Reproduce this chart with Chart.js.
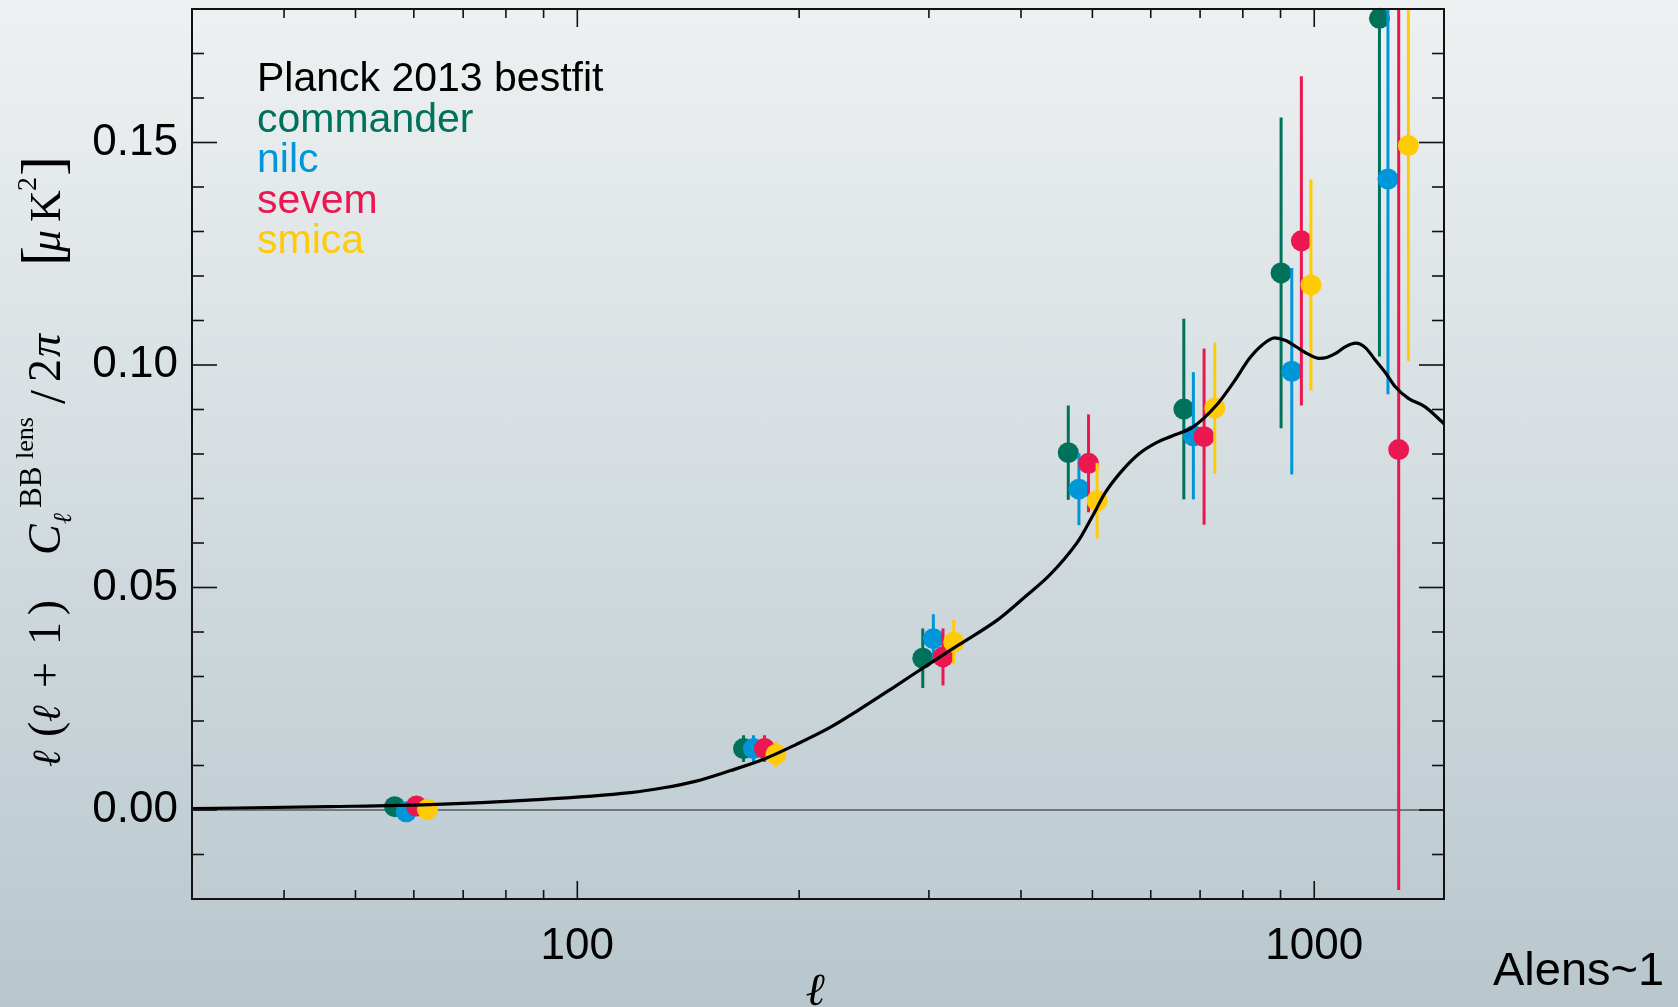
<!DOCTYPE html>
<html>
<head>
<meta charset="utf-8">
<title>Lensing B-mode power spectrum</title>
<script src="https://cdn.jsdelivr.net/npm/chart.js@4.4.1/dist/chart.umd.min.js"></script>
<style>
  html, body { margin: 0; padding: 0; }
  body {
    width: 1678px; height: 1007px; overflow: hidden;
    background: linear-gradient(to bottom, #eef1f2 0%, #b8c7cd 100%);
  }
  canvas { display: block; }
</style>
</head>
<body>
<canvas id="cl" width="1678" height="1007"></canvas>
<script>
// Best-fit lensing BB spectrum, l(l+1)C_l/2pi in uK^2
const theoryL = [30, 46, 63, 86, 118, 131, 145, 161, 179, 198,
                 220, 241, 270, 300, 330, 373, 407, 435, 458, 480,
                 500, 520, 545, 579, 610, 640, 685, 737, 780, 817,
                 850, 884, 915, 945, 980, 1015, 1040, 1069, 1100, 1138,
                 1175, 1210, 1250, 1288, 1342, 1414, 1489, 1500];
const theoryD = [0.0003, 0.00075, 0.0012, 0.0022, 0.0039, 0.005, 0.0065, 0.0088, 0.0114, 0.0147,
                 0.0185, 0.0225, 0.0278, 0.0328, 0.0372, 0.0429, 0.0482, 0.0524, 0.0564, 0.0608,
                 0.0660, 0.0712, 0.0757, 0.0801, 0.0825, 0.0840, 0.0861, 0.0910, 0.0965, 0.1015,
                 0.1045, 0.1061, 0.1055, 0.1041, 0.1025, 0.1015, 0.1017, 0.1026, 0.1040, 0.1049,
                 0.1038, 0.1011, 0.0982, 0.0951, 0.0925, 0.0906, 0.0873, 0.0868];

// Band powers per component-separation method (bin centre, value, 1-sigma error)
const commanderL   = [56.5, 168.1, 294.3, 463.7, 665.3, 901.6, 1226];
const commanderD   = [0.00075, 0.0138, 0.0341, 0.0803, 0.0901, 0.1207, 0.1779];
const commanderErr = [0.002, 0.003, 0.0067, 0.0106, 0.0203, 0.0349, 0.076];

const nilcL   = [58.6, 173.4, 304.2, 479.4, 685.5, 932.2, 1259];
const nilcD   = [-0.0004, 0.0138, 0.0385, 0.0721, 0.0841, 0.0986, 0.1418];
const nilcErr = [0.002, 0.003, 0.0055, 0.0081, 0.0143, 0.0232, 0.0484];

const sevemL   = [60.5, 179.5, 313.5, 494.0, 708.8, 960.6, 1302];
const sevemD   = [0.0009, 0.0138, 0.0344, 0.0779, 0.0839, 0.1279, 0.0810];
const sevemErr = [0.002, 0.003, 0.0064, 0.011, 0.0198, 0.037, 0.099];

const smicaL   = [62.6, 186.0, 324.2, 507.4, 732.9, 989.9, 1342];
const smicaD   = [0.00015, 0.0125, 0.0377, 0.0695, 0.0903, 0.1180, 0.1493];
const smicaErr = [0.002, 0.003, 0.005, 0.0085, 0.0147, 0.0237, 0.0484];

// Axis ticks
const xMajorTicks = [100, 1000];
const xTickLabels = ['100', '1000'];
const xMinorTicks = [40, 50, 60, 70, 80, 90, 200, 300, 400, 500, 600, 700, 800, 900];
const yMajorTicks = [0, 0.05, 0.10, 0.15];
const yTickLabels = ['0.00', '0.05', '0.10', '0.15'];
const yMinorTicks = [-0.01, 0.01, 0.02, 0.03, 0.04, 0.06, 0.07, 0.08, 0.09,
                     0.11, 0.12, 0.13, 0.14, 0.16, 0.17];

const seriesNames  = ['commander', 'nilc', 'sevem', 'smica'];
const seriesColors = ['#00725c', '#0096da', '#ec1751', '#ffcb05'];
const seriesL   = [commanderL, nilcL, sevemL, smicaL];
const seriesD   = [commanderD, nilcD, sevemD, smicaD];
const seriesErr = [commanderErr, nilcErr, sevemErr, smicaErr];

const toPoints = (xs, ys) => xs.map((x, i) => ({ x: x, y: ys[i] }));

const datasets = [{
  label: 'Planck 2013 bestfit',
  type: 'line',
  data: toPoints(theoryL, theoryD),
  borderColor: '#000000',
  borderWidth: 3.2,
  pointRadius: 0,
  cubicInterpolationMode: 'monotone',
  fill: false,
  order: 0
}];
seriesNames.forEach((name, k) => {
  datasets.push({
    label: name,
    type: 'scatter',
    data: toPoints(seriesL[k], seriesD[k]),
    errors: seriesErr[k],
    backgroundColor: seriesColors[k],
    borderColor: seriesColors[k],
    pointRadius: 10.5,
    pointBorderWidth: 0,
    clip: false,
    order: 4 - k
  });
});

// Thin reference line at zero
const zeroLine = {
  id: 'zeroLine',
  beforeDatasetsDraw(chart) {
    const { ctx, chartArea: a, scales: { y } } = chart;
    const py = y.getPixelForValue(0);
    ctx.save();
    ctx.strokeStyle = '#555b5e';
    ctx.lineWidth = 1.5;
    ctx.beginPath();
    ctx.moveTo(a.left, py);
    ctx.lineTo(a.right, py);
    ctx.stroke();
    ctx.restore();
  }
};

// Vertical error bars, drawn just beneath each dataset's markers
const errorBars = {
  id: 'errorBars',
  beforeDatasetDraw(chart, args) {
    const ds = chart.data.datasets[args.index];
    if (!ds.errors) return;
    const { ctx, chartArea: a, scales: { x, y } } = chart;
    ctx.save();
    ctx.beginPath();
    ctx.rect(a.left, a.top, a.right - a.left, a.bottom - a.top);
    ctx.clip();
    ctx.strokeStyle = ds.borderColor;
    ctx.lineWidth = 3;
    ds.data.forEach((p, i) => {
      const px = x.getPixelForValue(p.x);
      ctx.beginPath();
      ctx.moveTo(px, y.getPixelForValue(p.y - ds.errors[i]));
      ctx.lineTo(px, y.getPixelForValue(p.y + ds.errors[i]));
      ctx.stroke();
    });
    ctx.restore();
  }
};

// Box frame with inward ticks on all four sides
const frame = {
  id: 'frame',
  afterDatasetsDraw(chart) {
    const { ctx, chartArea: a, scales: { x, y } } = chart;
    const seg = (x1, y1, x2, y2) => { ctx.beginPath(); ctx.moveTo(x1, y1); ctx.lineTo(x2, y2); ctx.stroke(); };
    ctx.save();
    ctx.strokeStyle = '#111111';
    ctx.lineWidth = 1.6;
    xMajorTicks.forEach(v => { const p = x.getPixelForValue(v); seg(p, a.bottom, p, a.bottom - 18); seg(p, a.top, p, a.top + 18); });
    xMinorTicks.forEach(v => { const p = x.getPixelForValue(v); seg(p, a.bottom, p, a.bottom - 9); seg(p, a.top, p, a.top + 9); });
    yMajorTicks.forEach(v => { const p = y.getPixelForValue(v); seg(a.left, p, a.left + 25, p); seg(a.right, p, a.right - 25, p); });
    yMinorTicks.forEach(v => { const p = y.getPixelForValue(v); seg(a.left, p, a.left + 12, p); seg(a.right, p, a.right - 12, p); });
    ctx.lineWidth = 2;
    ctx.strokeRect(a.left, a.top, a.right - a.left, a.bottom - a.top);
    ctx.restore();
  }
};

// Legend text, axis titles and annotation
const labels = {
  id: 'labels',
  afterDraw(chart) {
    const { ctx, chartArea: a } = chart;
    ctx.save();
    // legend: one coloured line of text per dataset
    ctx.font = '41px "Liberation Sans", Arial, sans-serif';
    ctx.textAlign = 'left';
    ctx.textBaseline = 'alphabetic';
    chart.data.datasets.forEach((ds, i) => {
      ctx.fillStyle = ds.borderColor;
      ctx.fillText(ds.label, a.left + 65, 91 + i * 40.6);
    });

    ctx.fillStyle = '#000000';
    ctx.font = '47px "Liberation Sans", Arial, sans-serif';
    ctx.fillText('Alens~1', 1493, 985);

    // x-axis title
    ctx.font = 'italic 46px "DejaVu Serif", serif';
    ctx.textAlign = 'center';
    ctx.fillText('\u2113', (a.left + a.right) / 2 - 3, 1005);

    // y-axis title, rotated; each piece: text, font, screen y where it starts, baseline x, alignment
    const serif = '"Liberation Serif", "DejaVu Serif", serif';
    const ell = '"DejaVu Serif", serif';
    const pieces = [
      ['\u2113', 'italic 40px ' + ell, 767, 60, 'left'],
      ['(', '46px ' + serif, 737, 60, 'left'],
      ['\u2113', 'italic 40px ' + ell, 722, 60, 'left'],
      ['+', '46px ' + serif, 675, 60, 'center'],
      ['1', '46px ' + serif, 645, 60, 'left'],
      [')', '46px ' + serif, 600, 60, 'right'],
      ['C', 'italic 46px ' + serif, 555, 60, 'left'],
      ['\u2113', 'italic 26px ' + ell, 524, 71, 'left'],
      ['BB', '31px ' + serif, 508, 41, 'left'],
      ['lens', '26px ' + serif, 459, 33, 'left'],
      ['/', '50px ' + serif, 404, 64, 'left'],
      ['2', '46px ' + serif, 382, 60, 'left'],
      ['\u03c0', 'italic 46px ' + serif, 357, 60, 'left'],
      ['[', '60px ' + serif, 266, 62, 'left'],
      ['\u03bc', 'italic 44px ' + serif, 252, 60, 'left'],
      ['K', '44px ' + serif, 222, 60, 'left'],
      ['2', '28px ' + serif, 191, 36, 'left'],
      [']', '60px ' + serif, 156, 62, 'right']
    ];
    ctx.fillStyle = '#000000';
    pieces.forEach(([t, f, sy, bx, al]) => {
      ctx.save();
      ctx.translate(bx, sy);
      ctx.rotate(-Math.PI / 2);
      ctx.font = f;
      ctx.textAlign = al;
      ctx.textBaseline = 'alphabetic';
      ctx.fillText(t, 0, 0);
      ctx.restore();
    });
    ctx.restore();
  }
};

const tickFont = { family: '"Liberation Sans", Arial, sans-serif', size: 44 };
// keep the plot box fixed: no extra room reserved for half-labels at the ends
const noEdgePadding = s => { s.paddingTop = 0; s.paddingBottom = 0; s.paddingLeft = 0; s.paddingRight = 0; };

new Chart(document.getElementById('cl'), {
  type: 'scatter',
  data: { datasets: datasets },
  options: {
    responsive: false,
    devicePixelRatio: 1,
    animation: false,
    layout: { autoPadding: false, padding: { top: 9, right: 234, bottom: 0, left: 0 } },
    plugins: { legend: { display: false }, tooltip: { enabled: false } },
    scales: {
      x: {
        type: 'logarithmic',
        min: 30, max: 1500,
        grid: { display: false },
        border: { display: false },
        afterBuildTicks: s => { s.ticks = xMajorTicks.map(v => ({ value: v })); },
        afterFit: s => { s.height = 108; noEdgePadding(s); },
        ticks: {
          autoSkip: false, maxRotation: 0, padding: 13,
          color: '#000000', font: tickFont,
          callback: (v) => xTickLabels[xMajorTicks.indexOf(v)]
        }
      },
      y: {
        min: -0.02, max: 0.18,
        grid: { display: false },
        border: { display: false },
        afterBuildTicks: s => { s.ticks = yMajorTicks.map(v => ({ value: v })); },
        afterFit: s => { s.width = 192; noEdgePadding(s); },
        ticks: {
          padding: 6,
          color: '#000000', font: tickFont,
          callback: (v) => yTickLabels[yMajorTicks.indexOf(v)]
        }
      }
    }
  },
  plugins: [zeroLine, errorBars, frame, labels]
});
</script>
</body>
</html>
